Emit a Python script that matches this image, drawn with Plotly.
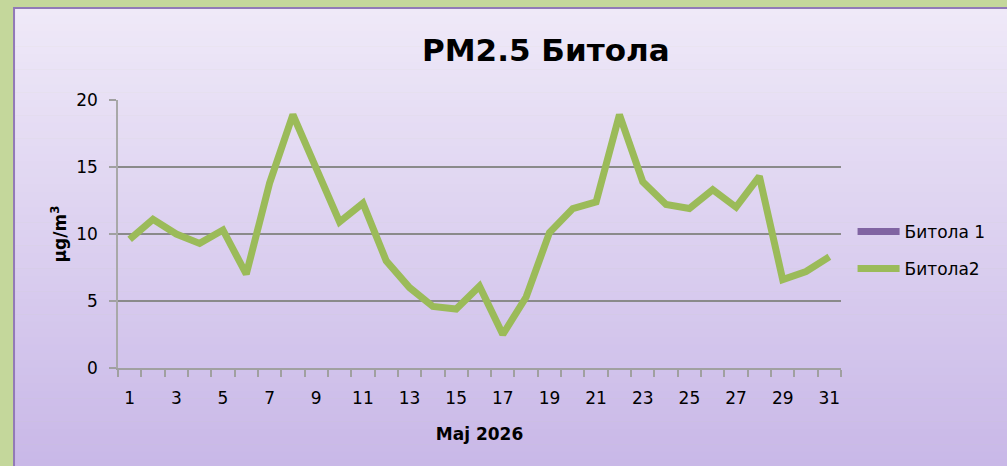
import plotly.graph_objects as go

# PM2.5 daily values, Bitola, May 2026
days = list(range(1, 32))
bitola2 = [9.6, 11.1, 10.0, 9.3, 10.3, 7.0, 13.8, 18.9, 14.9, 10.9,
           12.3, 8.0, 6.0, 4.6, 4.4, 6.1, 2.5, 5.3, 10.1, 11.9,
           12.4, 18.9, 13.9, 12.2, 11.9, 13.3, 12.0, 14.3, 6.6, 7.2, 8.3]
bitola1 = [None] * 31  # no data shown for this station

x_labels = list(range(1, 32, 2))
y_ticks = [0, 5, 10, 15, 20]

FONT = "DejaVu Sans"
PURPLE = "#8064a2"
GREEN = "#9bbb59"

fig = go.Figure()
fig.add_trace(go.Scatter(x=days, y=bitola1, mode="lines", name="Битола 1",
                         legendgroup="a",
                         line=dict(color=PURPLE, width=7)))
fig.add_trace(go.Scatter(x=days, y=bitola2, mode="lines", name="Битола2",
                         legendgroup="b",
                         line=dict(color=GREEN, width=7)))

# gradient panel behind the chart, made from thin strips
shapes = []
top_c = (239, 233, 248)
bot_c = (200, 183, 231)
y_top, y_bot = 1.343, -0.37
n = 60
for i in range(n):
    t = i / n
    c = tuple(round(top_c[k] + (bot_c[k] - top_c[k]) * t) for k in range(3))
    y0 = y_top + (y_bot - y_top) * i / n
    y1 = y_top + (y_bot - y_top) * (i + 1) / n
    shapes.append(dict(type="rect", xref="paper", yref="paper",
                       x0=-0.1438, x1=1.25, y0=y1 - 0.002, y1=y0,
                       fillcolor="rgb(%d,%d,%d)" % c, line=dict(width=0),
                       layer="below"))
shapes.append(dict(type="rect", xref="paper", yref="paper",
                   x0=-0.1438, x1=1.25, y0=y_bot, y1=y_top,
                   fillcolor="rgba(0,0,0,0)",
                   line=dict(color="#9179b8", width=2), layer="below"))

fig.update_layout(
    width=1007, height=466,
    margin=dict(l=118, r=166, t=100, b=98),
    paper_bgcolor="#c4d79b",
    plot_bgcolor="rgba(0,0,0,0)",
    font=dict(family=FONT, color="black", size=17),
    title=dict(text="<b>PM2.5 Битола</b>", x=0.542, xanchor="center",
               y=0.893, yanchor="middle",
               font=dict(family=FONT, size=31, color="black")),
    shapes=shapes,
    showlegend=True,
    legend=dict(x=1.016, xanchor="left", y=0.575, yanchor="top",
                bgcolor="rgba(0,0,0,0)", tracegroupgap=12, itemwidth=42,
                font=dict(family=FONT, size=17, color="black")),
    xaxis=dict(
        range=[0.5, 31.5], tickmode="array", tickvals=x_labels,
        ticktext=[str(v) for v in x_labels],
        ticks="", showgrid=False, zeroline=False,
        showline=True, linecolor="#a0a0a0", linewidth=1.5,
        tickfont=dict(size=17), ticklabelstandoff=14,
        minor=dict(tickmode="array",
                   tickvals=[d + 0.5 for d in range(0, 32)],
                   ticks="outside", ticklen=7, tickcolor="#a0a0a0",
                   tickwidth=1.5, showgrid=False),
        title=dict(text="<b>Maj 2026</b>", font=dict(size=17), standoff=21),
    ),
    yaxis=dict(
        range=[0, 20], tickmode="array", tickvals=y_ticks,
        ticks="outside", ticklen=7, tickcolor="#a0a0a0", tickwidth=1.5,
        showgrid=True, gridcolor="#8a8a8a", gridwidth=1.5,
        zeroline=False, showline=True, linecolor="#a8a8a8", linewidth=1.5,
        tickfont=dict(size=17), ticklabelstandoff=8,
        title=dict(text="<b>μg/m<sup>3</sup></b>", font=dict(size=17),
                   standoff=5),
    ),
)

fig.write_html("out.html", config={"displayModeBar": False},
               post_script="document.body.style.margin='0';")
